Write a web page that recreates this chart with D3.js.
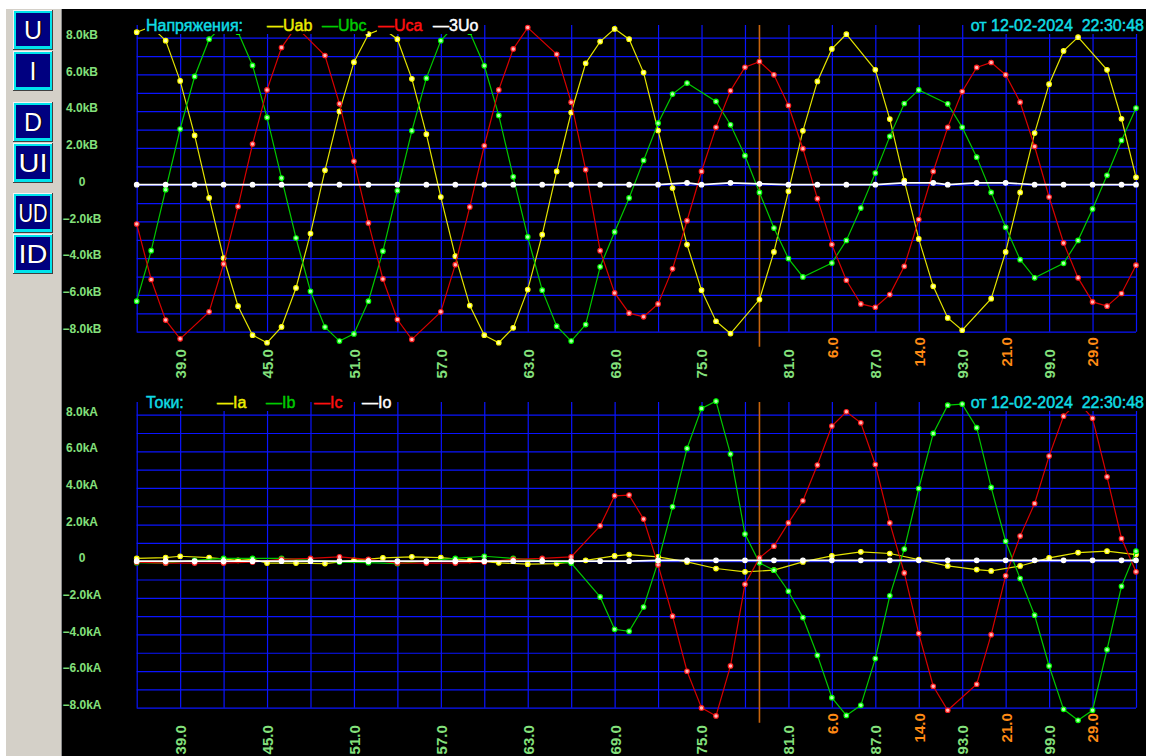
<!DOCTYPE html>
<html><head><meta charset="utf-8">
<script src="https://cdn.jsdelivr.net/npm/d3@7"></script>
<style>
html,body{margin:0;padding:0;background:#fff;}
svg{display:block;}
text{font-family:"Liberation Sans",Arial,sans-serif;}
</style></head><body>
<svg id="c" width="1160" height="756"></svg>
<script>
// ---------------- DATA ----------------
const sampleStart = 36;            // first sample number
const sampleEnd = 105;             // last sample number
const cursorSample = 79;

const gridSamples = [36,39,42,45,48,51,54,57,60,63,66,69,72,75,78,81,84,87,90,93,96,99,102,105];
const xTickSamples = [39,45,51,57,63,69,75,81,87,93,99];
const markSamples = [84,90,96,102];
const markLabels = ["6.0","14.0","21.0","29.0"];

const yGridValues = [-8,-7,-6,-5,-4,-3,-2,-1,0,1,2,3,4,5,6,7,8];
const yTickValues = [8,6,4,2,0,-2,-4,-6,-8];

// Voltages, kV (null = no sample marker)
const uab = [8.3,8.6,7.84,5.65,2.68,-0.72,-3.99,-6.61,-8.19,-8.6,
  -7.74,-5.62,-2.66,0.78,3.99,6.67,8.19,8.5,7.92,5.76,
  2.75,-0.67,-3.89,-6.58,-8.19,-8.6,-7.79,-5.71,-2.72,0.72,
  3.93,6.61,7.79,8.48,7.92,6.1,2.95,-0.18,-3.26,-5.74,
  -7.43,-8.1,null,-6.25,-3.66,-0.36,2.93,5.62,7.39,8.19,
  null,6.25,3.57,0.22,-2.95,-5.53,-7.25,-7.92,null,-6.2,
  -3.66,-0.42,2.81,5.47,7.28,8.03,null,6.25,3.59,0.4];
const ubc = [-6.34,-3.59,-0.27,3.03,5.89,7.92,8.7,8.3,6.49,3.66,
  0.36,-2.9,-5.8,-7.75,-8.51,-8.12,-6.34,-3.62,-0.33,2.93,
  5.8,7.84,8.7,8.3,6.47,3.77,0.43,-2.84,-5.74,-7.7,
  -8.51,-7.61,-4.47,-2.57,-0.72,1.32,3.35,4.93,5.53,null,
  4.53,3.26,1.58,-0.42,-2.36,-4.02,-5.02,null,-4.26,-3.03,
  -1.27,0.63,2.63,4.42,5.16,null,4.4,3.12,1.5,-0.42,
  -2.32,-4.08,-5.07,null,-4.28,-3.03,-1.32,0.51,2.41,4.17];
const uca = [-2.14,-5.16,-7.37,-8.39,null,-6.92,-4.31,-1.18,2.21,5.16,
  7.46,8.6,null,7.03,4.4,1.27,-2.08,-5.13,-7.34,-8.42,
  null,-6.92,-4.35,-1.21,2.12,5.16,7.39,8.55,null,7.1,
  4.49,0.82,-3.59,-5.89,-6.99,-7.19,-6.49,-4.58,-1.96,0.72,
  3.12,5.11,6.39,6.7,5.98,4.31,1.96,-0.76,-3.26,-5.2,
  -6.49,-6.67,-5.98,-4.44,-1.9,0.72,3.12,5.07,6.38,6.65,
  5.98,4.49,2.08,-0.67,-3.17,-5.07,-6.38,-6.61,-5.92,-4.38];
const u0 = [0,null,0,null,0,null,0,null,0,null,
  0,null,0,null,0,null,0,null,0,null,
  0,null,0,null,0,null,0,null,0,null,
  0,null,0,null,0,null,0,null,0.1,0,
  null,0.1,null,0.05,null,0,null,0,null,0,
  null,0,null,0.1,null,0.1,0,null,0.1,null,
  0.1,null,0,null,0,null,0,null,0,0];

// Currents, kA
const ia = [0.15,null,0.2,0.27,null,0.2,null,0.05,0.1,-0.1,
  null,-0.1,null,-0.13,null,0.05,null,0.18,null,0.24,
  null,0.2,null,0.05,null,-0.09,null,-0.16,null,-0.13,
  null,0.05,null,0.29,0.36,null,0.24,null,-0.04,null,
  -0.4,null,-0.58,null,-0.49,null,-0.04,null,0.29,null,
  0.51,null,0.42,null,0.09,null,-0.26,null,-0.46,-0.53,
  null,-0.26,null,0.18,null,0.47,null,0.55,null,0.36];
const ib = [-0.08,null,-0.1,null,0.05,null,0.15,null,0.15,null,
  0.15,null,null,null,-0.05,null,-0.08,null,-0.13,null,
  null,null,0.15,null,0.27,null,0.15,null,null,null,
  -0.1,null,-1.95,-3.72,-3.83,-2.5,-0.04,2.97,6.16,8.34,
  8.74,5.85,1.48,-0.09,-0.49,-1.64,-3.08,-5.14,-7.45,-8.42,
  -7.87,-5.32,-1.89,0.66,3.97,6.98,8.52,8.58,7.29,4.03,
  1.09,-0.95,-2.95,-5.72,-8.09,-8.69,-8.14,-4.83,-1.37,0.55];
const ic = [-0.05,null,-0.1,null,-0.1,null,-0.1,null,-0.05,null,
  0.1,null,0.15,null,0.24,null,0.1,null,-0.1,null,
  -0.1,null,-0.1,null,-0.05,null,0.1,null,0.15,null,
  0.24,null,1.93,3.57,3.61,2.3,-0.2,-3.0,-6.01,-8.01,
  -8.45,-5.72,-1.26,0.18,0.82,2.09,3.3,5.25,7.38,8.16,
  7.56,5.28,2.09,-0.64,-3.95,-6.83,-8.14,null,-6.72,-4.01,
  -0.8,1.37,3.15,5.74,7.92,8.7,7.8,4.61,1.24,-0.58];
const i0 = [0,null,0,null,0,null,0,null,0,null,
  0,null,0,null,0,null,0,null,0,null,
  0,null,0,null,0,null,0,null,0,null,
  0,null,0,null,0,null,0.05,null,0.05,null,
  0.05,null,0.05,null,0.05,null,0.05,null,0.05,null,
  0.05,null,0.05,null,0.05,null,0.05,null,0.05,null,
  0.05,null,0.05,null,0.05,null,0.05,null,0.05,0.05];

const voltNames = ["Uab","Ubc","Uca","3Uo"];
const currNames = ["Ia","Ib","Ic","Io"];
const dateText = "от 12-02-2024  22:30:48";
const buttonLabels = ["U","I","D","UI","UD","ID"];

// ---------------- STYLE ----------------
const GRID = "#0a14ff";
const LABEL = "#84e07c";
const ORANGE = "#ff8a14";
const CYAN = "#10dce4";
const styles = [
  {line:"#e4e400", dot:"#ffff00", fill:"#ffffb0", text:"#ecec00", w:1.2},
  {line:"#00c800", dot:"#00ff00", fill:"#b0ffb0", text:"#00cc00", w:1.2},
  {line:"#d80000", dot:"#ff2020", fill:"#ffb8b8", text:"#ff1010", w:1.2},
  {line:"#ffffff", dot:"#ffffff", fill:"#ffffff", text:"#ffffff", w:1.7}
];

const svg = d3.select("#c");
const X0 = 136.7, X1 = 1136;
const x = d3.scaleLinear().domain([sampleStart, sampleEnd]).range([X0, X1]);

// background
svg.append("rect").attr("width",1160).attr("height",756).attr("fill","#fff");
svg.append("rect").attr("x",62).attr("y",9).attr("width",1084).attr("height",747).attr("fill","#000");
svg.append("rect").attr("x",6).attr("y",9).attr("width",55).attr("height",747).attr("fill","#d4d0c8");
svg.append("line").attr("x1",61.5).attr("x2",61.5).attr("y1",9).attr("y2",756).attr("stroke","#8a8a8a").attr("stroke-width",1);

// buttons
const btnY = [10,51,102,143,193,234];
buttonLabels.forEach((lab,k)=>{
  const g = svg.append("g").attr("transform",`translate(13,${btnY[k]})`);
  g.append("rect").attr("width",40).attr("height",40).attr("fill","#404040");
  g.append("rect").attr("width",39).attr("height",39).attr("fill","#f4f4f4");
  g.append("rect").attr("x",1).attr("y",1).attr("width",38).attr("height",38).attr("fill","#00e4ec");
  g.append("rect").attr("x",3).attr("y",3).attr("width",34).attr("height",33).attr("fill","#000080");
  const t2 = g.append("text").attr("x",21.5).attr("y",29).attr("text-anchor","middle")
    .attr("font-size",25).attr("fill","#000010").text(lab);
  const t = g.append("text").attr("x",20).attr("y",29).attr("text-anchor","middle")
    .attr("font-size",25).attr("fill","#ffffff").text(lab);
  if (lab.length > 1) { [t,t2].forEach(s=>s.attr("textLength",29).attr("lengthAdjust","spacingAndGlyphs")); }
});

function panel(opt){
  const y = d3.scaleLinear().domain([-8,8]).range(opt.yRange);
  const yb = opt.yRange[0];
  const g = svg.append("g");

  // grid via axes
  const gy = g.append("g").attr("transform",`translate(${X0},0)`)
    .call(d3.axisLeft(y).tickValues(yGridValues).tickSize(-(X1-X0)).tickFormat(""));
  gy.select(".domain").remove();
  gy.selectAll("line").attr("stroke",GRID).attr("stroke-width",1.2);
  const gx = g.append("g").attr("transform",`translate(0,${yb})`)
    .call(d3.axisBottom(x).tickValues(gridSamples).tickSize(-(yb-opt.top)).tickFormat(""));
  gx.select(".domain").remove();
  gx.selectAll("line").attr("stroke",GRID).attr("stroke-width",1.2);

  // cursor
  g.append("line").attr("x1",x(cursorSample)).attr("x2",x(cursorSample))
    .attr("y1",opt.top).attr("y2",yb+15).attr("stroke","#c8640c").attr("stroke-width",1.6);

  // series
  opt.series.forEach((data,k)=>{
    const st = styles[k];
    const pts = data.map((v,i)=>({t:sampleStart+i, v})).filter(d=>d.v!==null);
    g.append("path").datum(pts)
      .attr("d", d3.line().x(d=>x(d.t)).y(d=>y(d.v)))
      .attr("fill","none").attr("stroke",st.line).attr("stroke-width",st.w);
    g.append("g").selectAll("circle").data(pts).join("circle")
      .attr("cx",d=>x(d.t)).attr("cy",d=>y(d.v)).attr("r",2.3)
      .attr("fill",st.fill).attr("stroke",st.dot).attr("stroke-width",1.1);
  });

  // header texts with opaque backgrounds
  const hdr = g.append("g");
  const items = [{x:146, s:opt.title, c:CYAN, a:"start"}];
  opt.names.forEach((n,k)=>items.push({x:opt.legendX[k], s:"—"+n, c:styles[k].text, a:"start"}));
  items.push({x:1144, s:dateText, c:CYAN, a:"end"});
  items.forEach(it=>{
    const t = hdr.append("text").attr("x",it.x).attr("y",opt.top+6)
      .attr("text-anchor",it.a).attr("font-size",16)
      .attr("fill",it.c).attr("stroke",it.c).attr("stroke-width",0.45)
      .style("white-space","pre").text(it.s);
    const bb = t.node().getBBox();
    hdr.insert("rect","text").attr("x",bb.x-1).attr("y",opt.top-13).attr("width",bb.width+2)
      .attr("height",22).attr("fill","#000");
  });
  hdr.selectAll("text").raise();

  // y labels
  const ly = g.append("g").attr("transform","translate(82,0)")
    .call(d3.axisLeft(y).tickValues(yTickValues).tickSize(0).tickPadding(0)
      .tickFormat(d=> d===0 ? "0" : d3.format(".1f")(d)+opt.unit));
  ly.select(".domain").remove();
  ly.selectAll("text").attr("x",0).attr("dy","0.05em").attr("text-anchor","middle")
    .attr("fill",LABEL).attr("font-size",12).attr("font-weight","bold")
    .attr("font-family","'Liberation Sans',Arial,sans-serif");

  // x labels (rotated)
  function xLabels(ticks, fmt, yTop, color){
    const a = g.append("g").attr("transform",`translate(0,${yTop})`)
      .call(d3.axisBottom(x).tickValues(ticks).tickSize(0).tickPadding(0).tickFormat(fmt));
    a.select(".domain").remove();
    a.selectAll("text").attr("x",0).attr("y",0).attr("dy","0.36em")
      .attr("transform","rotate(-90)").attr("text-anchor","end")
      .attr("fill",color).attr("font-size",15).attr("font-weight","bold")
      .attr("font-family","'Liberation Sans',Arial,sans-serif");
  }
  xLabels(xTickSamples, d=>d3.format(".1f")(d), yb+17.5, LABEL);
  xLabels(markSamples, (d,i)=>markLabels[i], yb+5.5, ORANGE);
}

panel({title:"Напряжения:", unit:"kB", names:voltNames, series:[uab,ubc,uca,u0],
  yRange:[331.7,37.7], top:25, legendX:[267,322,378,433]});
panel({title:"Токи:", unit:"kA", names:currNames, series:[ia,ib,ic,i0],
  yRange:[707.7,414.7], top:402, legendX:[217,266,314,362]});
</script>
</body></html>
